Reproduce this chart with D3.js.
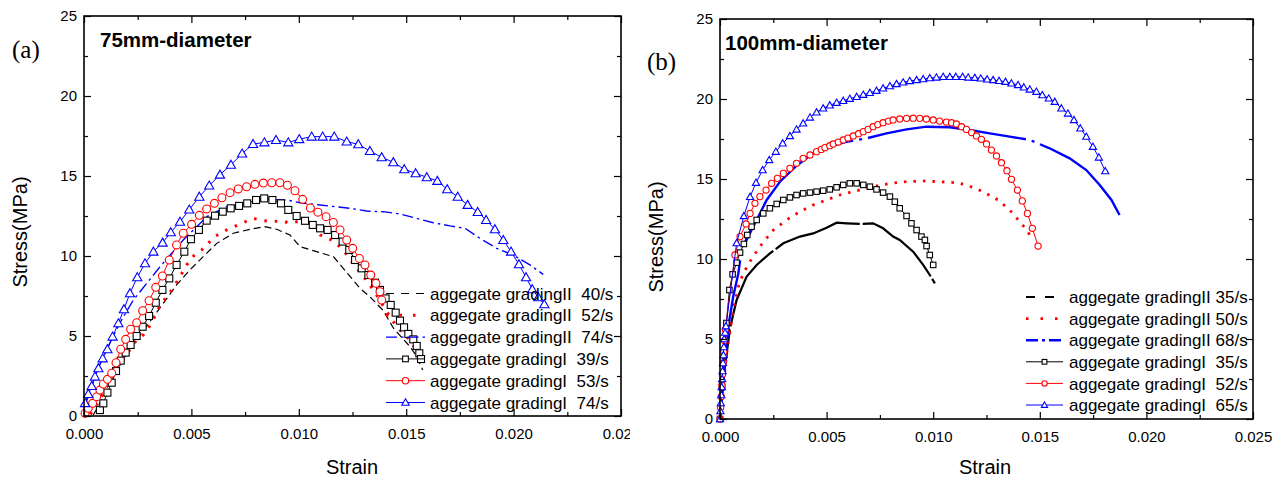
<!DOCTYPE html>
<html><head><meta charset="utf-8">
<script src="https://cdn.jsdelivr.net/npm/d3@7"></script>
<style>
html,body{margin:0;padding:0;background:#fff;}
svg{display:block;}
</style></head>
<body>
<svg id="chart" width="1283" height="481"></svg>
<script>
// ---------- DATA ----------
const strainTicks = [0, 0.005, 0.010, 0.015, 0.020, 0.025];
const strainMinor = [0.0025, 0.0075, 0.0125, 0.0175, 0.0225];
const stressTicks = [0, 5, 10, 15, 20, 25];
const stressMinor = [2.5, 7.5, 12.5, 17.5, 22.5];

const panelTitles = ["75mm-diameter", "100mm-diameter"];
const panelLetters = ["(a)", "(b)"];
const xLabel = "Strain";
const yLabel = "Stress(MPa)";

const legendA = ["aggegate gradingII  40/s", "aggegate gradingII  52/s", "aggegate gradingII  74/s",
                 "aggegate gradingI  39/s", "aggegate gradingI  53/s", "aggegate gradingI  74/s"];
const legendB = ["aggegate gradingII 35/s", "aggegate gradingII 50/s", "aggegate gradingII 68/s",
                 "aggegate gradingI  35/s", "aggegate gradingI  52/s", "aggegate gradingI  65/s"];

// Panel (a): [strain, stress]
const aII40 = [[0.00043,0.06],[0.00074,0.79],[0.00121,2.04],[0.00168,3.19],[0.00214,4.23],[0.00261,5.06],[0.00307,5.9],[0.00369,7.04],[0.00431,8.19],[0.00493,9.13],[0.00555,9.96],[0.00618,10.79],[0.00695,11.42],[0.00788,11.71],[0.00843,11.83],[0.00897,11.67],[0.00959,11.31],[0.01006,10.58],[0.01083,10.27],[0.01161,9.96],[0.01207,9.23],[0.01285,7.98],[0.01331,7.45],[0.01393,6.6],[0.0144,5.5],[0.01518,4.33],[0.01545,3.8],[0.01577,2.88]];
const aII52 = [[0.0003,0.1],[0.0008,1.2],[0.0013,2.4],[0.0018,3.5],[0.00245,4.75],[0.00276,5.06],[0.00303,5.58],[0.00331,6.25],[0.00358,7.04],[0.00388,7.46],[0.00416,8.02],[0.00447,8.71],[0.00478,9.44],[0.00514,10.06],[0.00548,10.38],[0.00579,10.79],[0.00602,11.17],[0.00664,11.63],[0.00726,12.0],[0.00788,12.35],[0.00835,12.21],[0.00874,12.14],[0.0092,12.21],[0.00959,12.04],[0.01006,12.19],[0.0106,12.1],[0.011,11.31],[0.0113,11.17],[0.0116,10.94],[0.012,10.48],[0.0123,9.96],[0.0126,9.38],[0.0129,8.92],[0.0132,8.4],[0.0137,7.4],[0.01412,6.46],[0.0146,5.5],[0.01518,4.75],[0.0156,3.8]];
const aII74 = [[0,0.5],[0.0003,1.6],[0.0006,2.8],[0.001,4.0],[0.0014,5.1],[0.00175,6.0],[0.0023,7.25],[0.00292,8.29],[0.00354,9.33],[0.00408,10.17],[0.00462,11.0],[0.00525,11.83],[0.00571,12.46],[0.00664,13.08],[0.00757,13.29],[0.0085,13.54],[0.00944,13.5],[0.01006,13.33],[0.01099,13.19],[0.01238,12.98],[0.01316,12.81],[0.01393,12.77],[0.01471,12.63],[0.01549,12.35],[0.01626,12.08],[0.01704,11.88],[0.01774,11.73],[0.01844,11.1],[0.01921,10.48],[0.01998,10.06],[0.02076,9.44],[0.02138,8.85]];
const aI39 = [[0.00074,0.37],[0.0009,0.79],[0.00109,1.46],[0.00129,2.08],[0.00149,2.81],[0.00171,3.46],[0.00194,3.96],[0.00217,4.44],[0.00245,5.0],[0.00273,5.58],[0.00303,6.25],[0.00334,7.08],[0.00365,7.88],[0.00397,8.6],[0.00431,9.44],[0.00467,10.27],[0.00498,11.05],[0.00535,11.63],[0.00571,12.21],[0.0061,12.52],[0.00646,12.77],[0.00683,12.98],[0.00722,13.13],[0.0076,13.29],[0.00801,13.5],[0.00839,13.6],[0.00877,13.5],[0.00917,13.29],[0.00951,12.88],[0.0099,12.5],[0.01029,12.2],[0.01065,11.94],[0.01099,11.73],[0.01134,11.63],[0.01169,11.31],[0.01204,10.9],[0.01235,10.38],[0.01262,9.75],[0.01293,9.23],[0.01324,8.81],[0.01355,8.33],[0.01378,7.88],[0.01404,7.35],[0.01428,6.94],[0.01451,6.46],[0.01471,5.96],[0.0149,5.54],[0.0151,5.13],[0.01533,4.79],[0.01549,4.38],[0.01561,3.92],[0.01569,3.56]];
const aI53 = [[0.00005,0.17],[0.0002,0.48],[0.0004,0.79],[0.00059,1.21],[0.00074,1.62],[0.0009,2.0],[0.00109,2.29],[0.00129,2.67],[0.00149,3.33],[0.00171,4.17],[0.00194,4.79],[0.00217,5.42],[0.00245,5.83],[0.00273,6.58],[0.00303,7.21],[0.00334,8.04],[0.00365,8.75],[0.00397,9.75],[0.00431,10.69],[0.00462,11.42],[0.00501,11.98],[0.00537,12.54],[0.00571,12.94],[0.00607,13.29],[0.00642,13.64],[0.0068,13.96],[0.00718,14.19],[0.00757,14.33],[0.00796,14.48],[0.00835,14.56],[0.00874,14.58],[0.00912,14.58],[0.00947,14.42],[0.00982,14.08],[0.01018,13.54],[0.01054,13.0],[0.01089,12.74],[0.01127,12.46],[0.01161,12.1],[0.01192,11.63],[0.01223,11.0],[0.01251,10.48],[0.01282,9.85],[0.01308,9.44],[0.01335,8.81],[0.01359,8.29],[0.01378,7.77],[0.01386,7.25]];
const aI74 = [[0.00005,0.8],[0.0002,1.37],[0.00036,1.87],[0.00051,2.46],[0.00067,2.98],[0.00087,3.6],[0.00109,4.17],[0.00133,4.96],[0.0016,5.79],[0.00186,6.67],[0.00214,7.67],[0.00248,8.67],[0.00284,9.54],[0.00323,10.27],[0.00366,10.83],[0.00404,11.48],[0.00447,12.14],[0.0049,12.9],[0.00537,13.7],[0.00583,14.4],[0.00633,15.08],[0.00684,15.7],[0.00736,16.4],[0.00787,17.0],[0.0084,17.1],[0.00894,17.25],[0.00951,17.1],[0.01002,17.3],[0.0106,17.46],[0.01111,17.46],[0.01165,17.46],[0.01223,17.15],[0.01277,16.98],[0.01331,16.56],[0.01386,16.17],[0.0144,15.86],[0.01491,15.42],[0.01544,15.17],[0.01596,14.92],[0.01645,14.69],[0.01691,14.17],[0.0174,13.7],[0.01786,13.19],[0.01833,12.75],[0.01872,12.25],[0.01913,11.67],[0.01952,11.0],[0.01988,10.27],[0.02025,9.48],[0.02058,8.67],[0.02087,7.92],[0.02115,7.42],[0.02143,6.98]];

// Panel (b)
const bII35 = [[0,0],[0.0002,3],[0.00047,5.67],[0.00078,7.44],[0.00125,8.9],[0.00172,9.63],[0.00234,10.35],[0.00297,10.98],[0.00375,11.4],[0.00437,11.6],[0.005,11.96],[0.00547,12.27],[0.00594,12.23],[0.00656,12.19],[0.00718,12.23],[0.00765,11.92],[0.00812,11.4],[0.00843,11.19],[0.00906,10.46],[0.00953,9.63],[0.00984,9.0],[0.01008,8.48]];
const bII50 = [[0,0],[0.0003,4],[0.00062,6.81],[0.00086,8.27],[0.00106,9.0],[0.00133,9.69],[0.00161,10.25],[0.00184,10.73],[0.0025,11.81],[0.00312,12.44],[0.00375,12.96],[0.00437,13.38],[0.005,13.69],[0.00562,14.0],[0.00641,14.27],[0.00718,14.52],[0.00797,14.73],[0.00875,14.83],[0.00953,14.88],[0.01031,14.83],[0.01109,14.77],[0.01156,14.63],[0.01234,14.21],[0.01304,13.69],[0.01359,13.06],[0.01406,12.33],[0.01445,11.71],[0.01455,11.4]];
const bII68 = [[0,0],[0.0002,3],[0.00039,5.77],[0.00062,7.65],[0.00086,9.1],[0.00101,10.56],[0.00156,12.02],[0.00219,13.69],[0.00281,14.83],[0.00359,15.83],[0.00437,16.6],[0.00515,17.02],[0.00594,17.33],[0.00687,17.54],[0.00781,17.85],[0.00875,18.1],[0.00969,18.27],[0.01078,18.23],[0.01172,18.06],[0.01265,17.85],[0.01359,17.65],[0.01453,17.44],[0.01546,16.92],[0.0164,16.29],[0.01718,15.56],[0.01781,14.63],[0.01836,13.69],[0.01874,12.75]];
const bI35 = [[0,0],[0.0001,2],[0.0002,4],[0.0003,6],[0.00044,8.06],[0.00059,9.04],[0.00078,9.77],[0.00094,10.4],[0.00112,10.94],[0.00128,11.5],[0.00148,12.02],[0.00172,12.44],[0.00203,12.85],[0.00234,13.17],[0.00266,13.44],[0.00297,13.69],[0.00328,13.85],[0.00359,14.0],[0.0039,14.1],[0.00422,14.15],[0.00453,14.21],[0.00484,14.27],[0.00515,14.35],[0.00547,14.48],[0.00578,14.63],[0.00609,14.73],[0.00641,14.73],[0.00672,14.63],[0.00703,14.52],[0.00734,14.35],[0.00765,14.15],[0.00797,13.9],[0.0082,13.58],[0.00843,13.17],[0.00875,12.69],[0.00898,12.23],[0.00922,11.81],[0.00945,11.4],[0.00961,11.19],[0.00969,10.81],[0.00984,10.25],[0.01,9.63]];
const bI52 = [[0,0],[0.00003,0.7],[0.00006,1.4],[0.00009,2.1],[0.00012,2.8],[0.00015,3.5],[0.00018,4.2],[0.00021,4.9],[0.00025,5.6],[0.0007,10.25],[0.00094,11.4],[0.00122,12.19],[0.00141,12.85],[0.00164,13.48],[0.00187,13.9],[0.00216,14.31],[0.00242,14.73],[0.00269,15.04],[0.00297,15.35],[0.00328,15.67],[0.00359,15.98],[0.0039,16.29],[0.00422,16.5],[0.00453,16.71],[0.00475,16.85],[0.00492,16.96],[0.00515,17.08],[0.00531,17.19],[0.00555,17.31],[0.00578,17.44],[0.006,17.56],[0.00625,17.69],[0.0065,17.83],[0.00672,17.96],[0.00695,18.1],[0.00718,18.27],[0.0074,18.4],[0.00765,18.52],[0.0079,18.62],[0.00812,18.69],[0.00843,18.75],[0.00875,18.79],[0.00906,18.8],[0.00937,18.79],[0.00968,18.75],[0.01,18.69],[0.0103,18.62],[0.01062,18.56],[0.01086,18.52],[0.01109,18.44],[0.01133,18.27],[0.01156,18.1],[0.0118,17.9],[0.01203,17.69],[0.01226,17.48],[0.0125,17.19],[0.01273,16.81],[0.01297,16.44],[0.0132,16.02],[0.01346,15.52],[0.01367,14.98],[0.01395,14.31],[0.01418,13.63],[0.01442,12.85],[0.01465,11.92],[0.01492,10.81]];
const bI65 = [[0,0],[0.00002,0.5],[0.00004,1],[0.00006,1.5],[0.00008,2],[0.0001,2.5],[0.00012,3],[0.00014,3.5],[0.00016,4],[0.00018,4.5],[0.0002,5],[0.00024,5.4],[0.00028,5.8],[0.00078,11.0],[0.00112,12.69],[0.00141,13.89],[0.00169,14.77],[0.002,15.56],[0.00231,16.19],[0.00262,16.71],[0.00294,17.23],[0.00328,17.69],[0.00359,18.1],[0.0039,18.48],[0.00422,18.85],[0.00453,19.17],[0.00484,19.42],[0.00515,19.61],[0.00547,19.77],[0.00578,19.89],[0.00609,20.02],[0.00641,20.14],[0.00672,20.27],[0.00703,20.39],[0.00734,20.52],[0.00765,20.67],[0.00797,20.81],[0.00828,20.94],[0.00859,21.04],[0.0089,21.13],[0.00922,21.19],[0.00953,21.25],[0.00984,21.31],[0.01015,21.35],[0.01047,21.39],[0.01078,21.39],[0.01106,21.39],[0.01138,21.39],[0.01164,21.35],[0.01195,21.33],[0.01223,21.29],[0.01253,21.23],[0.01281,21.19],[0.01309,21.14],[0.01339,21.08],[0.01367,20.98],[0.01398,20.88],[0.01425,20.73],[0.01453,20.6],[0.01484,20.46],[0.01512,20.25],[0.01542,20.04],[0.0157,19.83],[0.01601,19.42],[0.01632,19.1],[0.0166,18.69],[0.0169,18.17],[0.01718,17.65],[0.01749,17.02],[0.01777,16.35],[0.01807,15.5]];

// ---------- LAYOUT / STYLE ----------
const SANS = "'Liberation Sans',Arial,sans-serif";
const SERIF = "'Liberation Serif','Times New Roman',serif";
const svg = d3.select("#chart");
const defs = svg.append("defs");
defs.append("clipPath").attr("id","clipA").append("rect").attr("x",0).attr("y",0).attr("width",630).attr("height",481);

const panels = [
  {x0:84, x1:621, y0:416, y1:16, clip:"url(#clipA)", title:panelTitles[0], letter:panelLetters[0],
   titlePos:[100,47], letterPos:[12,58], xLabPos:[352,474], yLabPos:[27,232],
   legend:legendA, legX:[386,425,430], legY0:293.5, legStep:21.8, mk:0.92, lmk:0.75,
   series:[
     {d:aII40, color:"#000", w:1.2, dash:"7,4"},
     {d:aII52, color:"#ff0000", w:3, dash:"2.5,8"},
     {d:aII74, color:"#0000ff", w:1.4, dash:"11,4,2.5,4"},
     {d:aI39, color:"#000", w:1, marker:"square"},
     {d:aI53, color:"#ff0000", w:1, marker:"circle"},
     {d:aI74, color:"#0000ff", w:1, marker:"triangle"}
   ],
   legDash:["8,7","2.5,11","11,4,2.5,4"]},
  {x0:720, x1:1253, y0:419, y1:19, clip:null, title:panelTitles[1], letter:panelLetters[1],
   titlePos:[725,50], letterPos:[647,70], xLabPos:[985,474], yLabPos:[663,237],
   legend:legendB, legX:[1026,1063,1069], legY0:297, legStep:21.6, mk:0.72, lmk:0.62,
   series:[
     {d:bII35, color:"#000", w:2.2, dash:"90,3"},
     {d:bII50, color:"#ff0000", w:2.8, dash:"2.5,7"},
     {d:bII68, color:"#0000ff", w:2.4, dash:"160,6,3,6"},
     {d:bI35, color:"#000", w:1, marker:"square"},
     {d:bI52, color:"#ff0000", w:1, marker:"circle"},
     {d:bI65, color:"#0000ff", w:1, marker:"triangle"}
   ],
   legDash:["9,10","2.5,12","12,4,3,4"]}
];

function drawMarker(g, type, cx, cy, color, s) {
  if (type === "square") {
    const h = 3.8*s;
    g.append("rect").attr("x",cx-h).attr("y",cy-h).attr("width",2*h).attr("height",2*h)
      .attr("fill","#fff").attr("stroke",color).attr("stroke-width",1.1);
  } else if (type === "circle") {
    g.append("circle").attr("cx",cx).attr("cy",cy).attr("r",4.3*s)
      .attr("fill","#fff").attr("stroke",color).attr("stroke-width",1.1);
  } else {
    const h = 5.0*s;
    g.append("path").attr("d",`M${cx},${cy-h}L${cx+h},${cy+h*0.75}L${cx-h},${cy+h*0.75}Z`)
      .attr("fill","#fff").attr("stroke",color).attr("stroke-width",1.1);
  }
}

panels.forEach(p => {
  const g = svg.append("g");
  if (p.clip) g.attr("clip-path", p.clip);
  const x = d3.scaleLinear().domain([0,0.025]).range([p.x0,p.x1]);
  const y = d3.scaleLinear().domain([0,25]).range([p.y0,p.y1]);

  // series
  const line = d3.line().x(d=>x(d[0])).y(d=>y(d[1]));
  p.series.forEach(s => {
    g.append("path").datum(s.d).attr("d",line).attr("fill","none")
      .attr("stroke",s.color).attr("stroke-width",s.w)
      .attr("stroke-dasharray", s.dash || null);
    if (s.marker) {
      const mg = g.append("g");
      s.d.forEach(d => drawMarker(mg, s.marker, x(d[0]), y(d[1]), s.color, p.mk));
    }
  });

  // axes
  const fmtX = d3.format(".3f");
  g.append("g").attr("transform",`translate(0,${p.y0})`)
    .call(d3.axisBottom(x).tickValues(strainTicks).tickSize(-7).tickPadding(12).tickFormat(fmtX));
  g.append("g").attr("transform",`translate(0,${p.y0})`)
    .call(d3.axisBottom(x).tickValues(strainMinor).tickSize(-4).tickFormat(""));
  g.append("g").attr("transform",`translate(0,${p.y1})`)
    .call(d3.axisTop(x).tickValues(strainTicks).tickSize(-7).tickFormat(""));
  g.append("g").attr("transform",`translate(0,${p.y1})`)
    .call(d3.axisTop(x).tickValues(strainMinor).tickSize(-4).tickFormat(""));
  g.append("g").attr("transform",`translate(${p.x0},0)`)
    .call(d3.axisLeft(y).tickValues(stressTicks).tickSize(-7).tickPadding(7).tickFormat(d3.format("d")));
  g.append("g").attr("transform",`translate(${p.x0},0)`)
    .call(d3.axisLeft(y).tickValues(stressMinor).tickSize(-4).tickFormat(""));
  g.append("g").attr("transform",`translate(${p.x1},0)`)
    .call(d3.axisRight(y).tickValues(stressTicks).tickSize(-7).tickFormat(""));
  g.append("g").attr("transform",`translate(${p.x1},0)`)
    .call(d3.axisRight(y).tickValues(stressMinor).tickSize(-4).tickFormat(""));
  g.selectAll(".domain").remove();
  g.selectAll(".tick line").attr("stroke","#000").attr("stroke-width",1.2);
  g.selectAll(".tick text").attr("font-size",15).attr("fill","#000").style("font-family",SANS);
  g.append("rect").attr("x",p.x0).attr("y",p.y1).attr("width",p.x1-p.x0).attr("height",p.y0-p.y1)
    .attr("fill","none").attr("stroke","#000").attr("stroke-width",1.6);

  // titles
  g.append("text").attr("x",p.titlePos[0]).attr("y",p.titlePos[1]).attr("font-size",20.5)
    .attr("font-weight","bold").attr("fill","#000").style("font-family",SANS).text(p.title);
  g.append("text").attr("x",p.letterPos[0]).attr("y",p.letterPos[1]).attr("font-size",25)
    .style("font-family",SERIF).attr("fill","#000").text(p.letter);
  g.append("text").attr("x",p.xLabPos[0]).attr("y",p.xLabPos[1]).attr("font-size",20)
    .attr("text-anchor","middle").attr("fill","#000").style("font-family",SANS).text(xLabel);
  g.append("text").attr("transform",`translate(${p.yLabPos[0]},${p.yLabPos[1]}) rotate(-90)`)
    .attr("font-size",20).attr("text-anchor","middle").attr("fill","#000").style("font-family",SANS).text(yLabel);

  // legend
  const lg = g.append("g");
  p.legend.forEach((lab,i) => {
    const s = p.series[i];
    const cy = p.legY0 + i*p.legStep;
    if (s.marker) {
      lg.append("line").attr("x1",p.legX[0]).attr("x2",p.legX[1]).attr("y1",cy).attr("y2",cy)
        .attr("stroke",s.color).attr("stroke-width",1);
      drawMarker(lg, s.marker, (p.legX[0]+p.legX[1])/2, cy, s.color, p.lmk);
    } else {
      lg.append("line").attr("x1",p.legX[0]).attr("x2",p.legX[1]).attr("y1",cy).attr("y2",cy)
        .attr("stroke",s.color).attr("stroke-width",s.w).attr("stroke-dasharray",p.legDash[i]);
    }
    lg.append("text").attr("x",p.legX[2]).attr("y",cy).attr("dy","0.36em").attr("font-size",17)
      .attr("fill","#000").style("font-family",SANS).style("white-space","pre").text(lab);
  });
});
</script>
</body></html>
